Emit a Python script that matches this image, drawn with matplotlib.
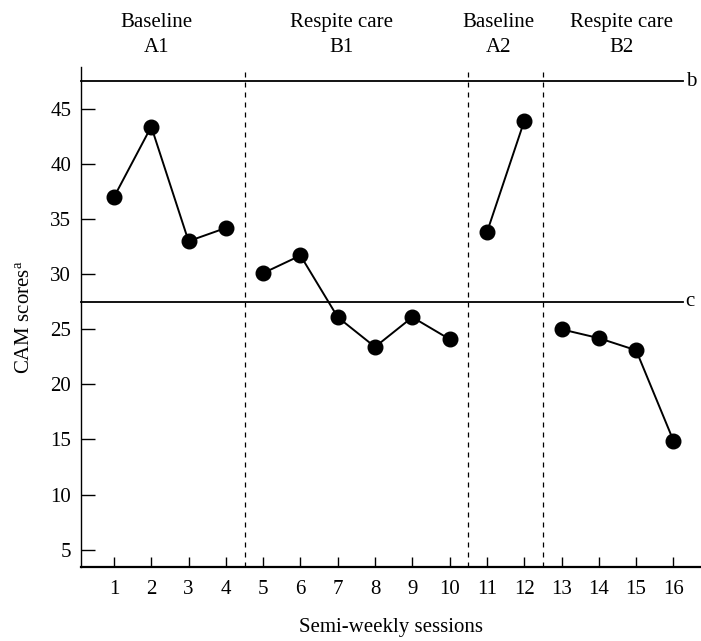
import numpy as np
import matplotlib
matplotlib.use("Agg")
from matplotlib import pyplot as plt

plt.rcParams['font.family'] = ['Liberation Serif', 'DejaVu Serif']
plt.rcParams['mathtext.fontset'] = 'custom'
plt.rcParams['mathtext.rm'] = 'Liberation Serif'
plt.rcParams['mathtext.it'] = 'Liberation Serif'

# sessions and CAM scores per phase
a1_sessions = [1, 2, 3, 4]
a1_scores = [37.0, 43.4, 33.0, 34.2]
b1_sessions = [5, 6, 7, 8, 9, 10]
b1_scores = [30.1, 31.7, 26.1, 23.4, 26.1, 24.1]
a2_sessions = [11, 12]
a2_scores = [33.8, 43.9]
b2_sessions = [13, 14, 15, 16]
b2_scores = [25.0, 24.2, 23.1, 14.9]

phase_breaks = [4.5, 10.5, 12.5]
phase_labels = ["Baseline\nA1", "Respite care\nB1", "Baseline\nA2", "Respite care\nB2"]
phase_label_x = [2.15, 7.1, 11.3, 14.6]

ref_lines = [47.5, 27.5]
ref_names = ["b", "c"]

fs = 15

fig = plt.figure(figsize=(7.01, 6.41), dpi=100)
ax = fig.add_axes([0.1155, 0.115, 0.8845, 0.781])

for xs, ys in [(a1_sessions, a1_scores), (b1_sessions, b1_scores),
               (a2_sessions, a2_scores), (b2_sessions, b2_scores)]:
    ax.plot(xs, ys, color='black', lw=1.4, marker='o', ms=10.5, zorder=3)

for xb in phase_breaks:
    ax.axvline(xb, color='black', lw=0.9, ls=(0, (4, 4)))

for yv, nm in zip(ref_lines, ref_names):
    ax.plot([0.115, 16.25], [yv, yv], color='black', lw=1.3, clip_on=False)
    ax.text(16.33, yv, nm, fontsize=fs, va='center', ha='left')

for xl, lab in zip(phase_label_x, phase_labels):
    ax.text(xl, 51.7, lab, fontsize=fs, ha='center', va='center',
            linespacing=1.45)

ax.set_xlim(0.115, 16.74)
ax.set_ylim(3.4, 48.84)
ax.set_xticks(range(1, 17))
ax.set_yticks(range(5, 50, 5))
ax.spines['top'].set_visible(False)
ax.spines['right'].set_visible(False)
ax.spines['left'].set_linewidth(1.0)
ax.spines['bottom'].set_linewidth(1.6)
ax.tick_params(axis='x', direction='in', length=7, width=1.0, pad=9, labelsize=fs)
ax.tick_params(axis='y', direction='in', length=10, width=1.0, pad=7, labelsize=fs)

ax.set_xlabel("Semi-weekly sessions", fontsize=fs, labelpad=14)
ax.set_ylabel("CAM scores$^a$", fontsize=fs, labelpad=12)

fig.savefig("out.png", dpi=100)
